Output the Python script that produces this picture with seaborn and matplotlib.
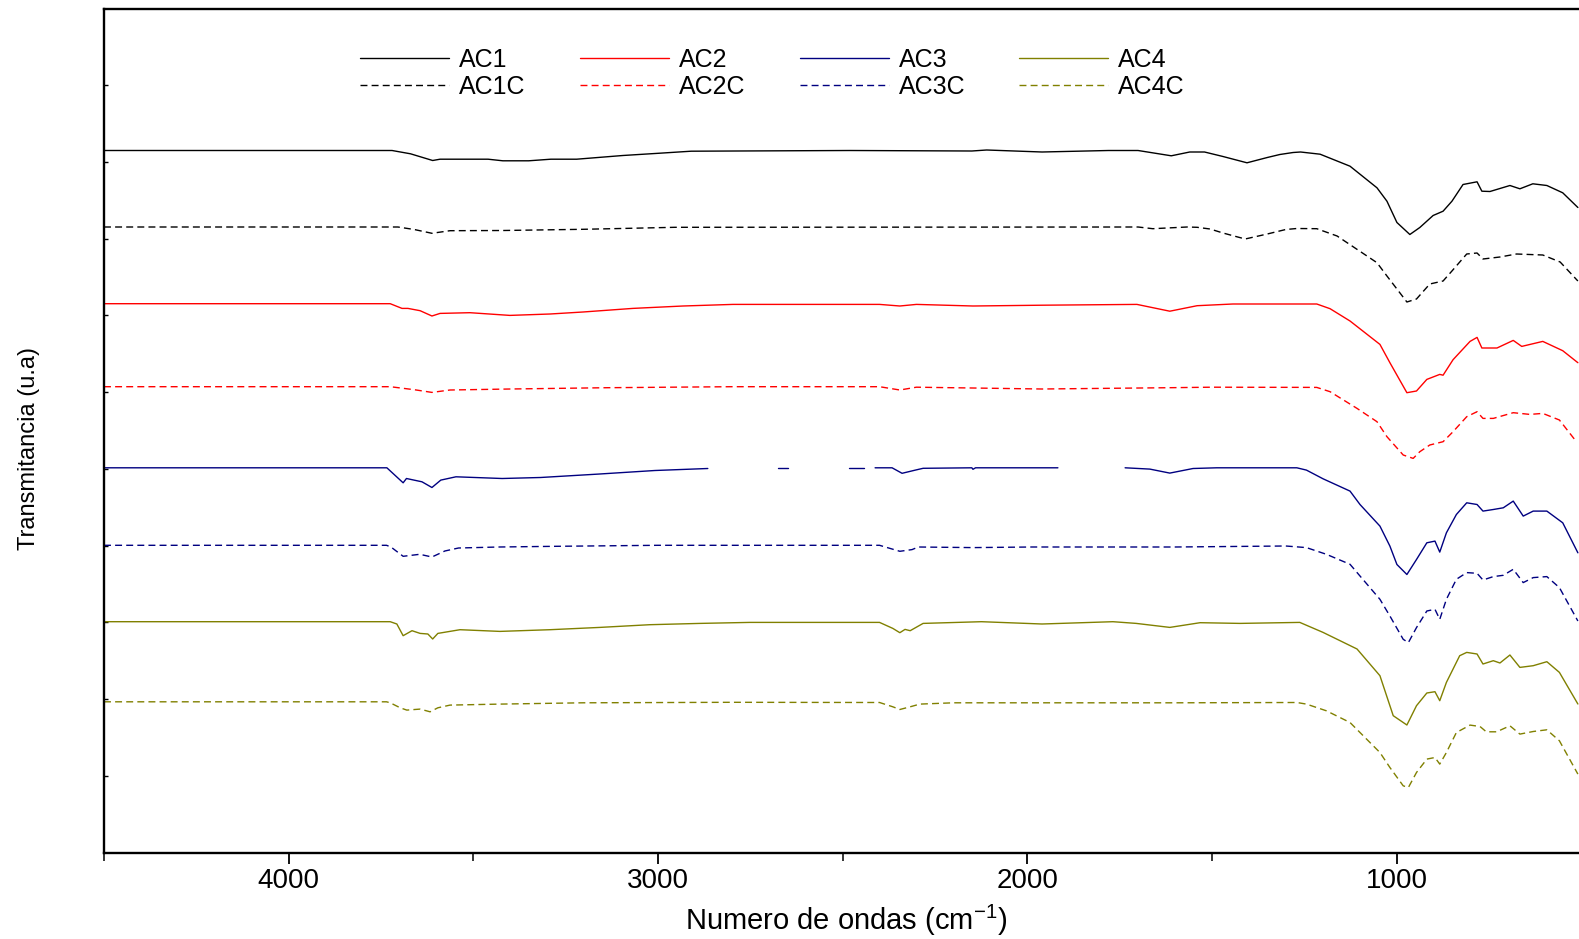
import numpy as np
import pandas as pd
import matplotlib
matplotlib.use("Agg")
import matplotlib.pyplot as plt
import seaborn as sns
from matplotlib.lines import Line2D

nan = np.nan

# ---------------- data (wavenumber, depth of band below each trace's baseline) ----------------
AC1_W = [4500, 3720, 3670, 3610, 3590, 3460, 3420, 3350, 3290, 3220, 3095, 2995, 2910, 2480, 2150, 2110,
         1960, 1780, 1700, 1610, 1560, 1520, 1470, 1405, 1350, 1316, 1280, 1260, 1207, 1126, 1053, 1026,
         999, 964, 937, 901, 874, 850, 820, 782, 769, 747, 693, 666, 631, 593, 550, 509]
AC1_D = [0, 0, 3.3, 10, 8.7, 8.7, 10.3, 10.3, 8.7, 8.7, 5, 2.7, 0.7, 0, 0.5, -0.5,
         1.5, 0, 0, 5.3, 1.5, 1.5, 6, 12.3, 7, 4, 2, 1.5, 3.7, 15.7, 37.3, 50.7,
         72, 84, 77, 65, 60.7, 50.7, 34, 31.3, 40.7, 41, 35, 38.3, 33.3, 35, 42.3, 57]

AC1C_W = [4500, 3704, 3660, 3612, 3563, 3420, 3203, 3076, 2954, 1700, 1660, 1567, 1540, 1505, 1470, 1410,
          1350, 1300, 1270, 1216, 1161, 1053, 1026, 972, 946, 910, 874, 850, 810, 782, 766, 720,
          675, 604, 557, 509]
AC1C_D = [0, 0, 2.5, 6.3, 3.7, 3.5, 2.3, 1.3, 0.3, 0, 1.7, 0, 0.3, 2, 6, 12,
          7, 2.5, 1.5, 1.7, 9, 35.7, 49, 75, 72, 57, 54, 44, 27, 26, 32, 30,
          27, 28, 35, 54]

AC2_W = [4500, 3725, 3693, 3677, 3644, 3612, 3590, 3509, 3401, 3292, 3203, 3068, 2932, 2797, 2400, 2345,
         2300, 2147, 1958, 1703, 1614, 1540, 1443, 1216, 1180, 1126, 1045, 1018, 972, 946, 918, 883,
         874, 847, 801, 782, 769, 728, 684, 661, 604, 550, 509]
AC2_D = [0, 0, 4.7, 4.7, 7, 12.3, 9.7, 9, 11.7, 10.3, 8.3, 4.7, 2.3, 0.7, 0.7, 2.3,
         0.7, 2.3, 1.5, 0.7, 7.5, 2, 0.3, 0.3, 5, 17.3, 40.7, 59, 89, 87.3, 75.7, 70.7,
         71.5, 56, 37.7, 33.7, 44.3, 44.3, 36.7, 42.7, 37.7, 47, 59]

AC2C_W = [4500, 3725, 3660, 3612, 3563, 3400, 3136, 2800, 2400, 2345, 2300, 1960, 1614, 1500, 1216, 1180,
          1107, 1053, 1026, 982, 955, 937, 910, 874, 847, 810, 782, 766, 738, 684, 639, 604,
          559, 513]
AC2C_D = [0, 0, 3, 5.7, 3.3, 2.3, 1, 0, 0, 3.3, 0.5, 2.3, 1, 0.5, 0.7, 5,
          21.7, 35, 50, 68.3, 71.7, 65, 58.3, 55, 45, 30, 25, 31.7, 31.7, 26, 27.7, 26.7,
          33.3, 55]

# NaN = missing stretch of the AC3 trace (gaps visible in the original)
AC3_W = [4500, 3734, 3690, 3681, 3639, 3612, 3588, 3547, 3422, 3318, 3162, 3008, 2865, 2760, 2675, 2647,
         2560, 2484, 2442, 2427, 2412, 2366, 2339, 2303, 2282, 2150, 2147, 2140, 2000, 1917, 1826, 1735,
         1668, 1614, 1551, 1487, 1270, 1244, 1199, 1126, 1099, 1045, 1018, 999, 972, 946, 918, 896,
         883, 865, 838, 810, 782, 766, 738, 711, 684, 657, 630, 593, 550, 509]
AC3_D = [0, 0, 15, 10.7, 14, 19.7, 12.3, 9, 10.7, 9.7, 6.3, 2.7, 0.7, nan, 0, 0,
         nan, 0, 0, nan, 0, 0, 5.5, 2.3, 0.5, 0, 1.5, 0, 0, 0, nan, 0,
         1.3, 5.3, 0.7, 0, 0, 2.3, 11, 23.3, 36.7, 58.3, 78.3, 96.7, 106.7, 91.7, 75, 73.3,
         84.3, 65, 46.7, 35, 36.7, 43.3, 41.7, 40, 33.3, 48.3, 43.3, 43.3, 55, 85]

AC3C_W = [4500, 3735, 3723, 3690, 3645, 3612, 3577, 3540, 3430, 3275, 3000, 2400, 2345, 2312, 2295, 2147,
          1987, 1600, 1300, 1244, 1190, 1126, 1099, 1045, 1018, 982, 968, 946, 918, 896, 883, 865,
          838, 810, 782, 766, 738, 711, 684, 657, 630, 593, 559, 509]
AC3C_D = [0, 0, 1.7, 11, 9, 11.7, 5.7, 2.7, 1.7, 1, 0, 0, 6, 4.3, 1.7, 2.3,
          1.7, 1.7, 0.7, 2.3, 9, 19, 30.7, 54, 70.7, 94, 97.3, 82.3, 65.7, 64, 74, 54,
          34, 27.3, 28, 34.7, 31.3, 30, 24, 37.3, 32.3, 31.3, 42.3, 75.7]

AC4_W = [4500, 3725, 3707, 3690, 3666, 3644, 3623, 3610, 3596, 3536, 3428, 3292, 3157, 3022, 2886, 2751,
         2400, 2364, 2345, 2331, 2317, 2282, 2124, 1960, 1768, 1705, 1614, 1532, 1424, 1262, 1199, 1107,
         1045, 1009, 972, 946, 918, 896, 883, 865, 829, 810, 782, 766, 738, 720, 693, 666,
         630, 593, 559, 509]
AC4_D = [0, 0, 2.3, 14, 9, 11.7, 12.3, 17.3, 11.7, 8, 9.7, 8, 5.7, 3, 1.7, 0.7,
         0.7, 6.7, 11, 7.7, 9, 1.7, 0, 2.3, 0, 1.7, 5.7, 1, 1.7, 0.7, 10.7, 27.3,
         54, 94, 103.3, 84, 71.3, 70, 79, 60.7, 34, 30.7, 32.3, 42.3, 39, 41.3, 33.3, 45.7,
         44, 40, 50.7, 82.3]

AC4C_W = [4500, 3735, 3725, 3698, 3680, 3644, 3617, 3596, 3563, 3428, 3203, 2800, 2400, 2364, 2345, 2317,
          2291, 2200, 1600, 1270, 1244, 1190, 1126, 1099, 1045, 1018, 982, 968, 946, 918, 896, 883,
          865, 838, 801, 774, 757, 729, 693, 666, 630, 593, 559, 509]
AC4C_D = [0, 0, 1, 6, 8.3, 7.3, 10, 6, 3.3, 2.3, 1, 0.5, 0.7, 5, 7.7, 5,
          2.3, 1, 1, 0.7, 2.3, 9, 20.7, 30.7, 50.7, 65.7, 84, 85.7, 70.7, 57.3, 55.7, 62.3,
          50.7, 30.7, 23.3, 24.7, 30, 30, 24, 32.3, 29.7, 28, 39, 72.3]

NAMES = ["AC1", "AC1C", "AC2", "AC2C", "AC3", "AC3C", "AC4", "AC4C"]
BASELINES = [702.5, 626.0, 549.3, 466.3, 385.2, 307.7, 231.3, 151.2]   # vertical offset of each trace (u.a)
XTICKS = [4000, 3000, 2000, 1000]
XMINOR = [4500, 3500, 2500, 1500, 500]

W_ALL = [AC1_W, AC1C_W, AC2_W, AC2C_W, AC3_W, AC3C_W, AC4_W, AC4C_W]
D_ALL = [AC1_D, AC1C_D, AC2_D, AC2C_D, AC3_D, AC3C_D, AC4_D, AC4C_D]

COLORS = ["#000000", "#000000", "#FF0000", "#FF0000", "#000080", "#000080", "#808000", "#808000"]
STYLES = ["-", (0, (5, 3)), "-", (0, (5, 3)), "-", (0, (5, 3)), "-", (0, (5, 3))]

# ---------------- style ----------------
sns.set_theme(style="white")
plt.rcParams["font.family"] = ["Liberation Sans", "DejaVu Sans"]
plt.rcParams["mathtext.fontset"] = "custom"
plt.rcParams["mathtext.rm"] = "Liberation Sans"
plt.rcParams["mathtext.it"] = "Liberation Sans:italic"
plt.rcParams["text.color"] = "black"

FW, FH = 1579, 939
fig = plt.figure(figsize=(FW / 100, FH / 100), dpi=100)
ax = fig.add_axes([104 / FW, (FH - 853) / FH, (1581.2 - 104) / FW, (853 - 8.5) / FH])

frames = []
for name, w, d, base in zip(NAMES, W_ALL, D_ALL, BASELINES):
    w = np.asarray(w, float)
    d = np.asarray(d, float)
    assert len(w) == len(d), name
    seg = np.cumsum(np.isnan(d))
    m = ~np.isnan(d)
    frames.append(pd.DataFrame({"w": w[m], "T": base - d[m], "seg": seg[m], "series": name}))

for df, c, ls in zip(frames, COLORS, STYLES):
    sns.lineplot(data=df, x="w", y="T", units="seg", estimator=None, sort=False,
                 color=c, linewidth=1.0, linestyle=ls, ax=ax, legend=False)

ax.set_xlim(4500, 500)
ax.set_ylim(0, 844.5)
ax.set_xticks(XTICKS)
ax.set_xticklabels([str(t) for t in XTICKS])
ax.set_xticks(XMINOR, minor=True)
ax.set_yticks(np.linspace(77, 768, 10))
ax.set_xlabel("")
ax.set_ylabel("")
ax.tick_params(axis="x", which="major", direction="out", length=8, width=1.3, colors="black",
               labelsize=20, pad=3, bottom=True)
ax.tick_params(axis="x", which="minor", direction="out", length=6, width=1.1, colors="black", bottom=True)
ax.tick_params(axis="y", which="major", direction="in", length=3, width=1.0, colors="black",
               labelleft=False, left=True)
for s in ["left", "bottom", "top", "right"]:
    ax.spines[s].set_color("black")
    ax.spines[s].set_linewidth(1.7)

fig.text(846 / FW, 1 - 920 / FH, "Numero de ondas (cm$^{-1}$)", ha="center", va="center", fontsize=21)
fig.text(29.5 / FW, 1 - 448 / FH, "Transmitancia (u.a)", ha="center", va="center",
         rotation=90, fontsize=17)

handles = [Line2D([], [], color=c, lw=1.0, linestyle=ls) for c, ls in zip(COLORS, STYLES)]
fig.legend(handles, NAMES, ncol=4, frameon=False, fontsize=18, handlelength=3.56,
           handletextpad=0.4, columnspacing=2.17, labelspacing=0.12, borderpad=0, borderaxespad=0,
           loc="upper left", bbox_to_anchor=(360 / FW, 1 - 48 / FH), bbox_transform=fig.transFigure)

fig.savefig("out.png", dpi=100)
